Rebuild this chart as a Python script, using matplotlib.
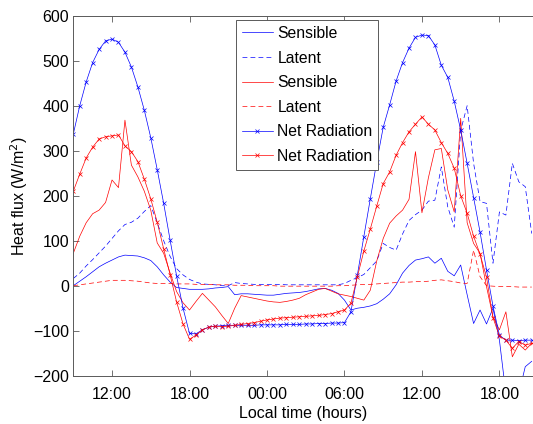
import numpy as np
import matplotlib
matplotlib.use('Agg')
import matplotlib.pyplot as plt

plt.rcParams['font.family'] = ['Liberation Sans', 'DejaVu Sans']
plt.rcParams['font.size'] = 11.5

# half-hourly samples, hours from midnight of day 1 (09:00 .. 20:30 next day)
t_hours = np.arange(9.0, 45.0, 0.5)

# site 1 (blue)
sensible_1 = [0, 10, 20, 31, 42, 50, 57, 64, 68, 67, 66, 62,
              56, 42, 24, 8, -4, -6, -8, -8, -8, -7, -5, -4,
              -2, -20, -18, -18, -19, -20, -21, -21, -19, -17, -16, -15,
              -13, -10, -7, -6, -10, -17, -32, -54, -50, -48, -45, -40,
              -30, -18, 2, 28, 45, 57, 60, 64, 50, 61, 32, 22,
              46, -20, -84, -54, -85, -50, -121, -240, -240, -240, -180, -168]
latent_1 = [16, 28, 44, 58, 73, 88, 105, 122, 136, 141, 150, 165,
            178, 140, 100, 65, 38, 24, 14, 8, 4, 3, 2, 0,
            0, 7, 5, 4, 3, 3, 3, 3, 3, 2, 2, 2,
            2, 2, 2, 2, 2, 2, 5, 12, 18, 25, 40, 55,
            94, 85, 79, 115, 145, 158, 168, 188, 190, 264, 175, 130,
            345, 400, 272, 187, 183, 50, 164, 157, 272, 231, 220, 116]
netrad_1 = [337, 400, 453, 496, 525, 544, 548, 541, 519, 486, 442, 390,
            329, 258, 183, 101, 22, -50, -106, -107, -98, -92, -90, -89,
            -88, -88, -88, -88, -88, -87, -87, -87, -87, -86, -86, -86,
            -85, -85, -84, -84, -83, -83, -82, -58, 24, 109, 193, 275,
            352, 402, 455, 496, 528, 552, 557, 556, 535, 490, 463, 410,
            346, 272, 196, 119, 35, -45, -110, -121, -121, -122, -121, -121]

# site 2 (red)
sensible_2 = [72, 110, 140, 160, 168, 185, 235, 218, 368, 268, 242, 210,
              168, 95, 72, 28, -13, -38, -54, -35, -17, -32, -47, -66,
              -84, -50, -22, -25, -28, -31, -34, -36, -37, -35, -32, -28,
              -20, -14, -8, -6, -12, -18, -21, -24, -28, -32, -10, 55,
              105, 139, 155, 168, 192, 298, 162, 240, 302, 305, 213, 164,
              372, 140, 94, 72, -2, -69, -98, -58, -158, -130, -143, -128]
latent_2 = [0, 2, 4, 6, 8, 10, 12, 12, 12, 11, 10, 8,
            6, 5, 5, 5, 4, 4, 4, 3, 3, 3, 2, 2,
            2, 1, 1, 1, 0, 0, 0, 0, -1, -1, -1, -1,
            -1, -1, -1, -1, -1, 0, 0, 1, 2, 3, 3, 4,
            5, 6, 7, 8, 8, 9, 9, 10, 12, 13, 11, 9,
            6, 5, 79, 20, 0, -1, -2, -2, -2, -3, -3, -3]
netrad_2 = [210, 248, 284, 308, 326, 331, 333, 335, 311, 298, 276, 237,
            193, 141, 82, 24, -36, -85, -119, -110, -98, -92, -90, -91,
            -90, -88, -86, -84, -82, -79, -76, -74, -72, -71, -70, -69,
            -68, -67, -66, -64, -62, -58, -54, -39, 20, 77, 126, 177,
            227, 253, 290, 318, 342, 359, 375, 359, 346, 318, 294, 261,
            200, 161, 110, 70, 19, -71, -112, -121, -139, -124, -132, -128]

tick_pos = [12, 18, 24, 30, 36, 42]
tick_lab = ['12:00', '18:00', '00:00', '06:00', '12:00', '18:00']

fig = plt.figure(figsize=(5.33, 4.24), dpi=100)
ax = fig.add_axes([0.1375, 0.1139, 0.8625, 0.849])

lw = 0.5
dash = (7, 4.5)
ax.plot(t_hours, sensible_1, color='blue', lw=lw, label='Sensible')
ax.plot(t_hours, latent_1, color='blue', lw=lw, dashes=dash, label='Latent')
ax.plot(t_hours, sensible_2, color='red', lw=lw, label='Sensible')
ax.plot(t_hours, latent_2, color='red', lw=lw, dashes=dash, label='Latent')
ax.plot(t_hours, netrad_1, color='blue', lw=lw, marker='x', ms=3.5, mew=0.5,
        label='Net Radiation')
ax.plot(t_hours, netrad_2, color='red', lw=lw, marker='x', ms=3.5, mew=0.5,
        label='Net Radiation')

ax.set_xlim(9, 44.6)
ax.set_ylim(-200, 600)
ax.set_xticks(tick_pos)
ax.set_xticklabels(tick_lab)
ax.set_yticks(range(-200, 601, 100))
ax.tick_params(direction='in', length=4, width=0.6, color='0.35', top=True,
               labelsize=11.5)
ax.tick_params(axis='x', pad=8)
ax.tick_params(axis='y', pad=3)
for s in ['left', 'bottom', 'top']:
    ax.spines[s].set_color('0.35')
    ax.spines[s].set_linewidth(0.7)
ax.spines['right'].set_visible(False)

ax.set_xlabel('Local time (hours)', fontsize=11.5, labelpad=3)
ax.set_ylabel('Heat flux (W/m$^2$)', fontsize=11.5, labelpad=2)

leg = ax.legend(loc='upper left', bbox_to_anchor=(236 / 533, 1 - 20 / 424),
                bbox_transform=fig.transFigure, borderaxespad=0,
                fancybox=False, framealpha=1, edgecolor='0.35',
                handlelength=1.95, labelspacing=0.61, borderpad=0.38,
                handletextpad=0.3, fontsize=11.3)
leg.get_frame().set_linewidth(0.7)

fig.savefig('out.png', dpi=100)
